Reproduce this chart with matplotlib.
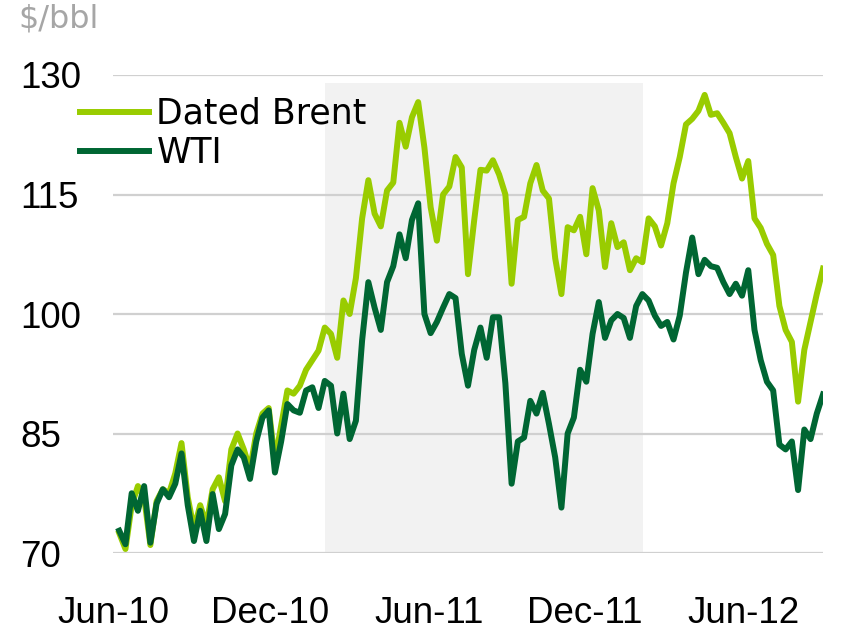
import numpy as np
import matplotlib
matplotlib.use('Agg')
import matplotlib.pyplot as plt
from matplotlib.lines import Line2D

# weekly readings, Jun-2010 .. Jul-2012 ($/bbl)
brent = [72.5, 70.5, 76.0, 78.4, 77.0, 71.0, 76.5, 78.0, 77.5, 80.0,
         83.8, 77.0, 73.0, 76.0, 73.5, 78.0, 79.5, 76.5, 83.0, 85.0,
         83.0, 80.5, 85.0, 87.5, 88.2, 81.5, 86.0, 90.4, 90.0, 91.0,
         93.0, 94.2, 95.4, 98.3, 97.5, 94.5, 101.7, 100.0, 104.5, 112.0,
         116.8, 112.6, 111.0, 115.5, 116.5, 124.0, 121.0, 124.7, 126.6, 120.9,
         113.4, 109.2, 115.0, 116.0, 119.7, 118.4, 105.0, 111.8, 118.1, 118.0,
         119.3, 117.5, 115.0, 103.8, 111.8, 112.2, 116.4, 118.7, 115.5, 114.5,
         107.0, 102.5, 110.9, 110.5, 112.2, 107.5, 115.8, 113.0, 105.9, 111.4,
         108.4, 109.0, 105.5, 107.0, 106.5, 112.0, 111.0, 108.6, 111.4, 116.4,
         119.7, 123.8, 124.5, 125.5, 127.5, 125.0, 125.2, 124.0, 122.7, 119.7,
         117.0, 119.2, 112.0, 110.8, 108.8, 107.4, 101.0, 98.0, 96.5, 89.0,
         95.5, 99.0, 102.5, 105.7]
wti = [72.8, 71.1, 77.5, 75.3, 78.4, 71.3, 76.2, 78.0, 77.0, 78.7,
       82.5, 76.0, 71.5, 75.3, 71.5, 77.4, 73.0, 74.9, 81.0, 83.0,
       82.0, 79.3, 84.0, 87.0, 87.9, 80.1, 84.0, 88.7, 87.9, 87.6,
       90.4, 90.8, 88.2, 91.6, 91.0, 85.0, 90.0, 84.3, 86.6, 96.7,
       104.0, 100.8, 98.0, 104.0, 106.0, 110.0, 107.0, 111.8, 113.9, 100.0,
       97.6, 99.0, 100.8, 102.5, 102.0, 95.0, 91.0, 95.5, 98.3, 94.5,
       99.6, 99.6, 91.3, 78.7, 84.0, 84.5, 89.1, 87.5, 90.1, 86.2,
       82.0, 75.7, 85.0, 87.0, 93.0, 91.5, 97.5, 101.5, 97.0, 99.2,
       100.0, 99.5, 97.0, 101.0, 102.5, 101.7, 99.8, 98.5, 99.0, 96.8,
       99.8, 105.2, 109.6, 105.0, 106.8, 106.0, 105.8, 104.0, 102.5, 103.8,
       102.3, 105.5, 98.0, 94.2, 91.5, 90.4, 83.6, 83.0, 84.0, 77.9,
       85.5, 84.3, 87.5, 89.9]
week = np.arange(len(wti))

tick_labels = ['Jun-10', 'Dec-10', 'Jun-11', 'Dec-11', 'Jun-12']
tick_weeks = [-1.0, 24.2, 49.7, 74.7, 100.2]
shade_from, shade_to, shade_top = 33.0, 84.1, 129

fig = plt.figure(figsize=(8.53, 6.30), dpi=100)
ax = fig.add_axes([113 / 853, 1 - 553 / 630, 710 / 853, 478 / 630])

ax.fill_between([shade_from, shade_to], 70, shade_top, color='#f2f2f2', lw=0, zorder=0)
for y in range(70, 131, 15):
    ax.axhline(y, color='#d0d0d0', lw=1.6, zorder=1)

ax.plot(week, brent, color='#99cc00', lw=4.3, zorder=3, solid_joinstyle='round')
ax.plot(week, wti, color='#006633', lw=4.3, zorder=4, solid_joinstyle='round')

ax.set_xlim(0, 113)
ax.set_ylim(70, 130)
for s in ax.spines.values():
    s.set_visible(False)

ax.set_yticks(range(70, 131, 15))
ax.set_yticklabels([str(v) for v in range(70, 131, 15)], family='Liberation Sans',
                   fontsize=26.5, ha='left')
ax.tick_params(axis='y', length=0, pad=67)
ax.set_xticks(tick_weeks)
ax.set_xticklabels(tick_labels, family='Liberation Sans', fontsize=26.5)
ax.tick_params(axis='x', length=0, pad=31)

fig.text(18 / 853, 1 - 4 / 630, '$/bbl', color='#a6a6a6', fontsize=23,
         family='DejaVu Sans', ha='left', va='top')

handles = [Line2D([], [], color='#99cc00', lw=4.3), Line2D([], [], color='#006633', lw=4.3)]
fig.legend(handles, ['Dated Brent', 'WTI'], loc='upper left',
           bbox_to_anchor=(80 / 853, 1 - 97 / 630), frameon=False,
           prop={'family': 'DejaVu Sans', 'size': 25}, handlelength=2.0,
           handletextpad=0.2, labelspacing=0.15, borderpad=0, borderaxespad=0)

fig.savefig('out.png', dpi=100)
